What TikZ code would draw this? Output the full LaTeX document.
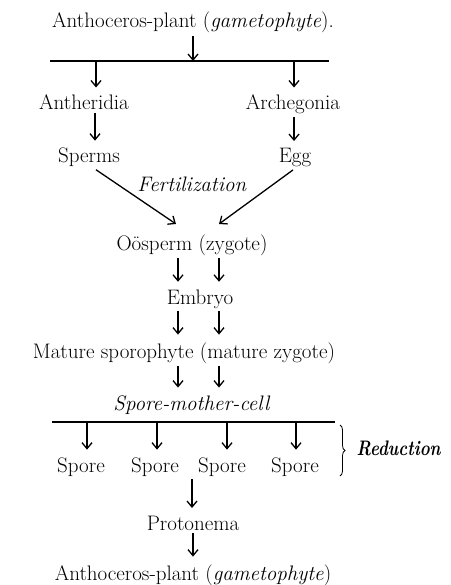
\documentclass[tikz,border=0pt]{standalone}
\usetikzlibrary{arrows.meta,decorations.pathreplacing}
\begin{document}
\begin{tikzpicture}[x=1pt, y=-1pt, >={Straight Barb[length=6pt,width=10pt]}, line width=1.3pt,
    every node/.style={font=\fontsize{21}{25}\selectfont, inner sep=2pt, anchor=base},
    step arrow/.style={->, shorten >=5pt}]
    \useasboundingbox (0,0) rectangle (450,585);
    % Gametophyte
    \node (top) at (193,28) {Anthoceros-plant (\textit{gametophyte}).};
    \coordinate (barA) at (193,61);
    \draw (50,61) -- (329,61);
    \draw[->] (top.south) -- (barA);
    % Sex organs
    \node (anth) at (84,110) {Antheridia};
    \node (arch) at (293,110) {Archegonia};
    \draw[step arrow] (96,0 |- barA) -- (96,0 |- anth.north);
    \draw[step arrow] (294,0 |- barA) -- (294,0 |- arch.north);
    % Gametes
    \node (sperm) at (89,163) {Sperms};
    \node (egg) at (295,163) {Egg};
    \draw[step arrow] (95,0 |- anth.south) -- (95,0 |- sperm.north);
    \draw[step arrow] (294,0 |- arch.south) -- (294,0 |- egg.north);
    \node (fert) at (192,192) {\textit{Fertilization}};
    % Sporophyte
    \node (oo) at (192,250) {O\"osperm (zygote)};
    \draw[->] (sperm.south -| 96,0) -- (176,224);
    \draw[->] (egg.south -| 293,0) -- (219,224);
    \node (emb) at (200,304) {Embryo};
    \node (mat) at (184,358) {Mature sporophyte (mature zygote)};
    \node (smc) at (192,410) {\textit{Spore-mother-cell}};
    \foreach \u/\v in {oo/emb, emb/mat, mat/smc} {
        \draw[step arrow] (\u.south -| 178,0) -- (\v.north -| 178,0);
        \draw[step arrow] (\u.south -| 219,0) -- (\v.north -| 219,0);
    }
    % Reduction
    \coordinate (barB) at (193,422);
    \draw (52,422) -- (335,422);
    \foreach \x [count=\i] in {81, 155, 222, 295} {
        \node (sp\i) at (\x,472) {Spore};
    }
    \foreach \i/\x in {1/87, 2/157, 3/227, 4/296} {
        \draw[step arrow] (\x,0 |- barB) -- (\x,0 |- sp\i.north);
    }
    \draw[line width=0.8pt, decorate, decoration={brace, amplitude=5pt}] (340,425) -- (340,476);
    \node[anchor=base west, inner sep=0pt] (red) at (356,455) {\scalebox{0.8}[1]{\textbf{\textit{Reduction}}}};
    % New gametophyte
    \node (prot) at (193,530) {Protonema};
    \node (bot) at (193,580) {Anthoceros-plant (\textit{gametophyte})};
    \draw[step arrow] (sp3.south -| 192,0) -- (prot.north -| 192,0);
    \draw[step arrow] (prot.south) -- (bot.north);
\end{tikzpicture}
\end{document}
